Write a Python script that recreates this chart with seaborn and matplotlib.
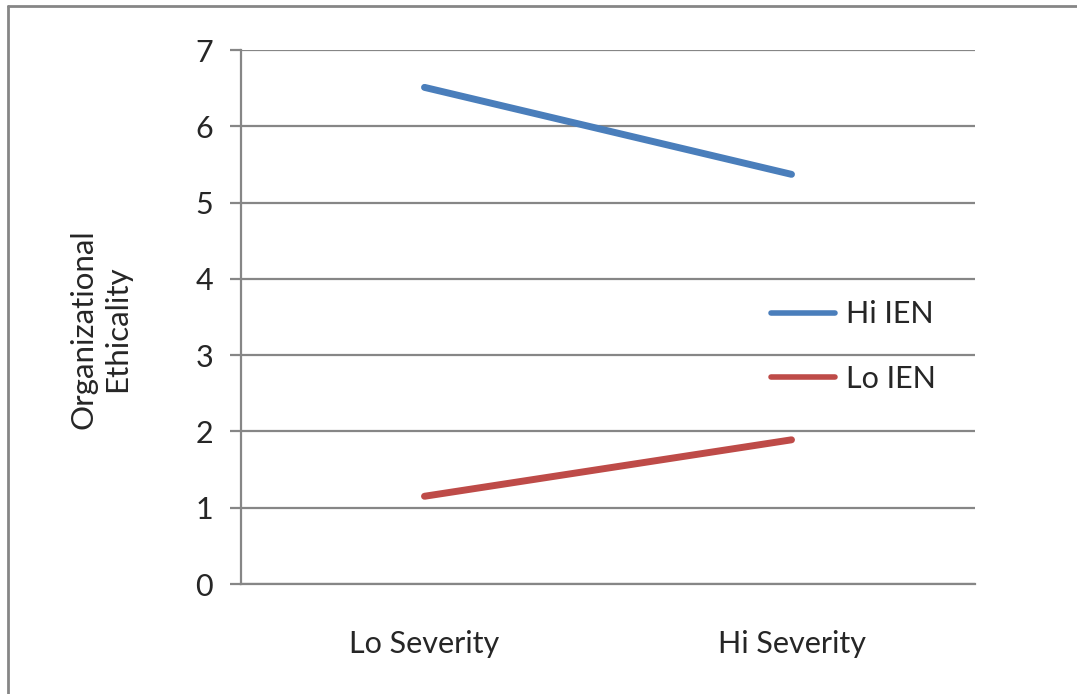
import matplotlib
matplotlib.use("Agg")
import matplotlib.pyplot as plt
from matplotlib.lines import Line2D
import seaborn as sns
import pandas as pd

# Interaction plot data
severity = ["Lo Severity", "Hi Severity"]
groups = ["Hi IEN", "Lo IEN"]
hi_ien = [6.51, 5.37]
lo_ien = [1.15, 1.89]
y_ticks = [0, 1, 2, 3, 4, 5, 6, 7]

df = pd.DataFrame({
    "Severity": severity * 2,
    "Group": [groups[0]] * 2 + [groups[1]] * 2,
    "Ethicality": hi_ien + lo_ien,
})

sns.set_theme(style="white")
plt.rcParams["font.family"] = ["Lato", "DejaVu Sans"]

grey = "#868686"
palette = {"Hi IEN": "#4A7EBB", "Lo IEN": "#BE4B48"}
fs = 22

fig = plt.figure(figsize=(10.77, 6.94), dpi=100)
ax = fig.add_axes([241 / 1077, 1 - 584 / 694, (975 - 241) / 1077, (584 - 50) / 694])

sns.lineplot(data=df, x="Severity", y="Ethicality", hue="Group",
             palette=palette, linewidth=5, ax=ax, sort=False,
             solid_capstyle="round", legend=False)

ax.set_xlim(-0.5, 1.5)
ax.set_ylim(0, 7)
ax.set_yticks(y_ticks)
ax.set_yticklabels([str(v) for v in y_ticks], fontsize=fs)
ax.set_xticks([0, 1])
ax.set_xticklabels(severity, fontsize=fs)
ax.set_xticks([-0.5, 0.5, 1.5], minor=True)
ax.tick_params(axis="x", which="major", length=0, pad=33)
ax.tick_params(axis="x", which="minor", length=8, width=1.6, color=grey, direction="out")
ax.tick_params(axis="y", which="major", length=8, width=1.6, color=grey,
               direction="out", left=True, pad=12)

ax.yaxis.grid(True, color=grey, linewidth=1.6)
ax.set_axisbelow(True)
for side in ["top", "right"]:
    ax.spines[side].set_visible(False)
for side in ["left", "bottom"]:
    ax.spines[side].set_color(grey)
    ax.spines[side].set_linewidth(1.6)

ax.set_xlabel("")
ax.set_ylabel("Organizational\nEthicality", fontsize=22.5, linespacing=1.25)
ax.yaxis.set_label_coords(-0.150, 0.478)

handles = [Line2D([0], [0], color=palette[g], linewidth=4, solid_capstyle="round") for g in groups]
ax.legend(handles, groups, loc="upper left", bbox_to_anchor=(0.705, 0.554),
          frameon=False, fontsize=fs, handlelength=2.1, handletextpad=0.35,
          labelspacing=1.2, borderaxespad=0)

# Outer chart frame (left and top edges)
fig.add_artist(Line2D([8 / 1077, 8 / 1077], [0, 1 - 6 / 694], transform=fig.transFigure,
                      color=grey, linewidth=2))
fig.add_artist(Line2D([8 / 1077, 1], [1 - 6 / 694, 1 - 6 / 694], transform=fig.transFigure,
                      color=grey, linewidth=2))

fig.savefig("out.png", dpi=100)
